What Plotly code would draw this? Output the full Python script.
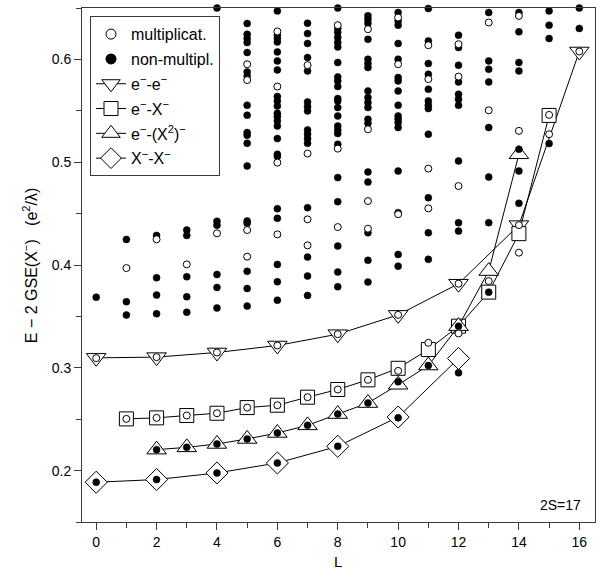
import plotly.graph_objects as go

# ---------------- data ----------------
# multiplicative states (open circles): L and energy
open_L = [0, 1, 1, 2, 2, 2, 3, 3, 4, 4, 4,
          5, 5, 5, 5, 5,
          6, 6, 6, 6, 6, 6,
          7, 7, 7, 7, 7,
          8, 8, 8, 8, 8,
          9, 9, 9, 9, 9,
          10, 10, 10, 10, 10,
          11, 11, 11, 11, 11,
          12, 12, 12, 12, 12,
          13, 13, 13,
          14, 14, 14, 14,
          15, 15,
          16]
open_E = [0.3094, 0.397, 0.2503, 0.425, 0.3104, 0.2513, 0.4006, 0.2536, 0.4308, 0.3149, 0.2558,
          0.5953, 0.5799, 0.434, 0.4081, 0.2613,
          0.6272, 0.5736, 0.4996, 0.4298, 0.3217, 0.2636,
          0.5944, 0.5084, 0.4444, 0.4191, 0.2714,
          0.6333, 0.5132, 0.4369, 0.3327, 0.2789,
          0.6294, 0.532, 0.4622, 0.4353, 0.2883,
          0.6407, 0.5953, 0.4494, 0.3515, 0.297,
          0.6138, 0.5808, 0.4938, 0.4551, 0.3243,
          0.6148, 0.5833, 0.4768, 0.3818, 0.3334,
          0.6359, 0.5505, 0.3843,
          0.6423, 0.5305, 0.4388, 0.412,
          0.546, 0.5272,
          0.6077]

# non-multiplicative states (filled circles)
filled_L = ([0] * 2 + [1] * 3 + [2] * 6 + [3] * 6 + [4] * 8 + [5] * 19 + [6] * 24 +
            [7] * 17 + [8] * 25 + [9] * 19 + [10] * 19 + [11] * 13 + [12] * 12 +
            [13] * 8 + [14] * 7 + [15] * 4 + [16] * 2)
filled_E = [0.3687, 0.1887,
            0.4249, 0.3643, 0.3513,
            0.4288, 0.3876, 0.3707, 0.3526, 0.2204, 0.1913,
            0.434, 0.4288, 0.3886, 0.3691, 0.3541, 0.2226,
            0.65, 0.4425, 0.4386, 0.3908, 0.3782, 0.3582, 0.2259, 0.1977,
            0.6349, 0.6245, 0.6203, 0.6164, 0.6067, 0.5878, 0.5838, 0.5554, 0.5457, 0.5288,
            0.5262, 0.5184, 0.4963, 0.4428, 0.4405, 0.3938, 0.3772, 0.36, 0.2308,
            0.6472, 0.6236, 0.6204, 0.6170, 0.6073, 0.5985, 0.5898, 0.5639, 0.5596, 0.5547,
            0.5476, 0.5444, 0.5401, 0.5352, 0.5230, 0.5077, 0.5055, 0.4548, 0.4454, 0.4006,
            0.3837, 0.3658, 0.2366, 0.2074,
            0.6352, 0.6252, 0.6155, 0.6018, 0.5888, 0.5586, 0.5541, 0.5499, 0.5314, 0.5272,
            0.5230, 0.5184, 0.4558, 0.4077, 0.3892, 0.3704, 0.244,
            0.65, 0.6301, 0.6262, 0.6213, 0.6164, 0.6121, 0.597, 0.5830, 0.5791, 0.5736,
            0.5619, 0.5596, 0.5532, 0.545, 0.5352, 0.5314, 0.5279, 0.5174, 0.4850, 0.4616,
            0.4184, 0.3931, 0.3789, 0.255, 0.2236,
            0.6424, 0.6391, 0.6352, 0.6196, 0.6002, 0.5960, 0.5921, 0.5693, 0.5629, 0.5580,
            0.5532, 0.5418, 0.5379, 0.4905, 0.4807, 0.4314, 0.4045, 0.3834, 0.2657,
            0.6456, 0.6374, 0.6333, 0.6155, 0.6002, 0.5824, 0.5791, 0.5693, 0.5554, 0.545,
            0.5418, 0.5386, 0.5337, 0.4914, 0.4509, 0.4103, 0.3989, 0.2864, 0.2513,
            0.6495, 0.618, 0.596, 0.5856, 0.5710, 0.5596, 0.5554, 0.5522, 0.5272, 0.4655,
            0.4314, 0.4055, 0.3022,
            0.6236, 0.6116, 0.5944, 0.5781, 0.5661, 0.5612, 0.5554, 0.5012, 0.4412, 0.4330,
            0.3405, 0.2951,
            0.6456, 0.5985, 0.5904, 0.5781, 0.5337, 0.4856, 0.4412, 0.3736,
            0.6456, 0.6268, 0.5970, 0.5888, 0.5126, 0.4914, 0.46,
            0.6472, 0.6333, 0.6203, 0.5181,
            0.65, 0.6301]

# model curves
ee_L = [0, 2, 4, 6, 8, 10, 12, 14, 16]
ee_E = [0.3097, 0.3104, 0.3149, 0.3217, 0.3327, 0.3515, 0.3818, 0.4388, 0.6077]

eX_L = [1, 2, 3, 4, 5, 6, 7, 8, 9, 10, 11, 12, 13, 14, 15]
eX_E = [0.2503, 0.2513, 0.2536, 0.2558, 0.2613, 0.2636, 0.2714, 0.2789, 0.2883,
        0.2995, 0.3178, 0.3405, 0.3736, 0.4305, 0.5455]

eX2_L = [2, 3, 4, 5, 6, 7, 8, 9, 10, 11, 12, 13, 14]
eX2_E = [0.2204, 0.2226, 0.2259, 0.2308, 0.2366, 0.244, 0.255, 0.2657, 0.2835,
         0.3022, 0.3405, 0.3941, 0.5077]

XX_L = [0, 2, 4, 6, 8, 10, 12]
XX_E = [0.1887, 0.1913, 0.1977, 0.2074, 0.2236, 0.2521, 0.3091]

x_ticks = [0, 2, 4, 6, 8, 10, 12, 14, 16]
y_ticks = [0.2, 0.3, 0.4, 0.5, 0.6]

# ---------------- figure ----------------
FONT = "Liberation Sans, Arial, sans-serif"
FRAME = "#3a3a3a"
fig = go.Figure()

# legend-only entries for the circle symbols (drawn larger in the legend)
fig.add_trace(go.Scatter(
    x=[None], y=[None], mode="markers", name="multiplicat.", legendgroup="g1",
    marker=dict(symbol="circle", size=10, color="white", line=dict(color="black", width=1)),
))
fig.add_trace(go.Scatter(
    x=[None], y=[None], mode="markers", name="non-multipl.", legendgroup="g2",
    marker=dict(symbol="circle", size=11, color="black"),
))

curves = [
    (ee_L, ee_E, "triangle-down", 17, "e<sup>−</sup>-e<sup>−</sup>", "g3"),
    (eX_L, eX_E, "square", 14, "e<sup>−</sup>-X<sup>−</sup>", "g4"),
    (eX2_L, eX2_E, "triangle-up", 17, "e<sup>−</sup>-(X<sup>2</sup>)<sup>−</sup>", "g5"),
    (XX_L, XX_E, "diamond", 17, "X<sup>−</sup>-X<sup>−</sup>", "g6"),
]
for xs, ys, sym, sz, name, grp in curves:
    fig.add_trace(go.Scatter(
        x=xs, y=ys, mode="lines+markers", name=name, legendgroup=grp,
        line=dict(color="black", width=1),
        marker=dict(symbol=sym, size=sz, color="white",
                    line=dict(color="black", width=1)),
    ))

fig.add_trace(go.Scatter(
    x=filled_L, y=filled_E, mode="markers", name="non-multipl.", showlegend=False,
    legendgroup="g2", cliponaxis=False,
    marker=dict(symbol="circle", size=7, color="black",
                line=dict(color="black", width=0.5)),
))
fig.add_trace(go.Scatter(
    x=open_L, y=open_E, mode="markers", name="multiplicat.", showlegend=False,
    legendgroup="g1", cliponaxis=False,
    marker=dict(symbol="circle", size=7, color="white",
                line=dict(color="black", width=1)),
))

axis_common = dict(
    showline=True, linecolor=FRAME, linewidth=1, mirror=True,
    ticks="outside", ticklen=7, tickcolor=FRAME, showgrid=False, zeroline=False,
    tickfont=dict(family=FONT, size=14, color="black"),
)

fig.update_xaxes(
    range=[-0.47, 16.52], tickvals=x_ticks,
    minor=dict(dtick=1, tick0=0, ticks="outside", ticklen=5, tickcolor=FRAME, showgrid=False),
    **axis_common,
)
fig.update_yaxes(
    range=[0.15, 0.65], tickvals=y_ticks, tickformat=".1f",
    minor=dict(dtick=0.05, tick0=0, ticks="outside", ticklen=5, tickcolor=FRAME, showgrid=False),
    **axis_common,
)

# axis titles and label
fig.add_annotation(
    text="L", xref="x", yref="paper", x=8, y=-0.076,
    xanchor="center", yanchor="middle", showarrow=False,
    font=dict(family=FONT, size=15, color="black"),
)
fig.add_annotation(
    text="E − 2 GSE(X<sup>−</sup>)   (e<sup>2</sup>/λ)", textangle=-90,
    xref="paper", yref="paper", x=-0.101, y=0.5,
    xanchor="center", yanchor="middle", showarrow=False,
    font=dict(family=FONT, size=16, color="black"),
)
fig.add_annotation(
    text="2S=17", xref="paper", yref="paper", x=0.977, y=0.033,
    xanchor="right", yanchor="middle", showarrow=False,
    font=dict(family=FONT, size=14, color="black"),
)

fig.update_layout(
    width=603, height=572,
    margin=dict(l=82, r=8, t=8, b=50),
    plot_bgcolor="white", paper_bgcolor="white",
    font=dict(family=FONT, size=14, color="black"),
    legend=dict(
        x=0.0156, y=0.984, xanchor="left", yanchor="top",
        bgcolor="white", bordercolor=FRAME, borderwidth=1,
        font=dict(family=FONT, size=16, color="black"),
        tracegroupgap=1, itemwidth=30, traceorder="grouped",
        groupclick="toggleitem",
    ),
    showlegend=True,
)

fig.write_html("out.html", config={"displayModeBar": False},
               post_script="document.body.style.margin='0';")
